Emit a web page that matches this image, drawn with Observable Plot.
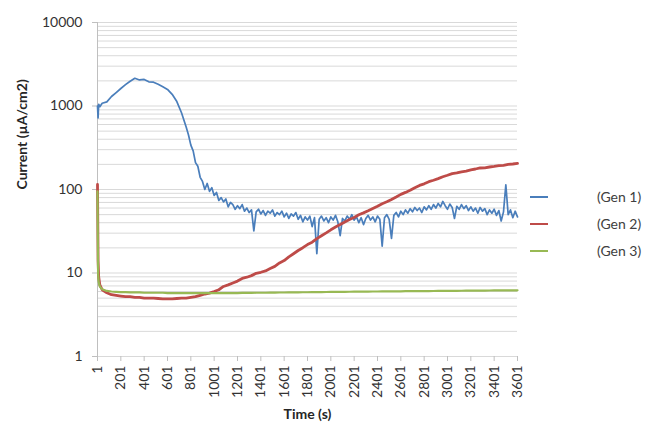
<!DOCTYPE html>
<html>
<head>
<meta charset="utf-8">
<script src="https://cdn.jsdelivr.net/npm/d3@7"></script>
<script src="https://cdn.jsdelivr.net/npm/@observablehq/plot@0.6"></script>
<style>
  html, body { margin: 0; padding: 0; background: #fff; }
  #wrap { position: relative; width: 665px; height: 426px; font-family: Lato, "Liberation Sans", sans-serif; }
  .leg { position: absolute; left: 0; top: 0; width: 665px; height: 426px; pointer-events: none; }
  .leg .sw { position: absolute; left: 530px; width: 18px; height: 2px; }
  .leg .lb { position: absolute; left: 597px; font-size: 14px; color: #404040; line-height: 16px; }
</style>
</head>
<body>
<div id="wrap"></div>
<script>
// shared sample times for Gen 2 / Gen 3
const time = [1,6,11,21,41,81,121,161,201,241,281,321,361,401,441,481,521,561,601,641,681,721,761,801,841,881,921,961,1001,1041,1081,1121,1161,1201,1241,1281,1321,1361,1401,1441,1481,1521,1561,1601,1641,1681,1721,1761,1801,1841,1881,1921,1961,2001,2041,2081,2121,2161,2201,2241,2281,2321,2361,2401,2441,2481,2521,2561,2601,2641,2681,2721,2761,2801,2841,2881,2921,2961,3001,3041,3081,3121,3161,3201,3241,3281,3321,3361,3401,3441,3481,3521,3561,3601];

// denser sample times for the noisy Gen 1 trace
const timeGen1 = [1,6,11,21,41,81,121,161,201,241,281,321,361,401,441,481,521,561,601,641,681,721,761,781,801,821,841,861,881,901,921,941,961,981,
  1001,1021,1041,1061,1081,1101,1121,1141,1161,1181,
  1201,1221,1241,1261,1281,1301,1321,1341,1361,1381,
  1401,1421,1441,1461,1481,1501,1521,1541,1561,1581,
  1601,1621,1641,1661,1681,1701,1721,1741,1761,1781,
  1801,1821,1841,1861,1881,1901,1921,1941,1961,1981,
  2001,2021,2041,2061,2081,2101,2121,2141,2161,2181,
  2201,2221,2241,2261,2281,2301,2321,2341,2361,2381,
  2401,2421,2441,2461,2481,2501,2521,2541,2561,2581,
  2601,2621,2641,2661,2681,2701,2721,2741,2761,2781,
  2801,2821,2841,2861,2881,2901,2921,2941,2961,2981,
  3001,3021,3041,3061,3081,3101,3121,3141,3161,3181,
  3201,3221,3241,3261,3281,3301,3321,3341,3361,3381,
  3401,3421,3441,3461,3481,3501,3521,3541,3561,3581,
  3601];

const gen1 = [1000,720,1050,980,1080,1120,1300,1450,1620,1800,1980,2150,2050,2080,
  1950,1930,1820,1700,1580,1380,1130,830,560,
  450,340,290,210,190,140,125,100,118,95,105,
  85,92,74,80,71,77,62,70,66,58,
  64,59,66,55,60,53,57,32,54,58,
  51,56,49,55,52,57,48,53,50,55,
  47,52,45,51,48,53,44,49,41,47,
  43,48,36,46,17,44,48,42,46,40,
  47,43,49,41,28,45,42,48,44,50,
  43,47,40,46,38,45,49,43,47,41,
  48,44,21,46,50,44,26,49,53,47,
  55,50,57,52,59,54,61,56,60,53,
  62,57,64,58,66,60,68,62,72,64,
  58,67,61,45,63,58,66,59,64,56,
  62,55,60,52,61,55,59,50,57,52,
  58,49,56,42,54,114,50,57,46,55,
  47];

const gen2 = [115,14,9,7.2,6.3,5.8,5.5,5.4,5.3,5.2,
  5.2,5.1,5.1,5.0,5.0,5.0,4.95,4.9,4.9,4.9,
  4.95,5.0,5.0,5.1,5.2,5.4,5.6,5.75,6.0,6.3,
  6.9,7.2,7.6,8.0,8.6,8.9,9.3,9.9,10.2,10.6,
  11.3,12.0,13.2,14.1,15.6,17.0,18.6,20.1,21.9,23.4,
  25.8,27.9,30.2,32.9,35.5,38.0,40.9,43.7,46.2,49.8,
  52.5,55.6,59.3,63.1,67.6,71.2,75.9,81.3,87.5,92.3,
  97.7,105,112,117,124,129,135,142,148,155,
  158,163,166,172,176,181,182,186,189,193,
  195,200,202,205];

const gen3 = [95,10,7.8,6.9,6.4,6.1,6.0,5.95,5.9,5.9,
  5.85,5.85,5.85,5.8,5.8,5.8,5.8,5.8,5.75,5.75,
  5.75,5.75,5.75,5.75,5.75,5.75,5.75,5.75,5.75,5.75,
  5.75,5.75,5.75,5.75,5.78,5.78,5.78,5.8,5.8,5.8,
  5.82,5.82,5.84,5.84,5.85,5.86,5.87,5.88,5.88,5.9,
  5.9,5.91,5.92,5.93,5.94,5.95,5.95,5.96,5.97,5.98,
  5.98,5.99,6.0,6.0,6.01,6.02,6.03,6.03,6.04,6.05,
  6.05,6.06,6.07,6.08,6.08,6.09,6.1,6.1,6.11,6.12,
  6.12,6.13,6.14,6.14,6.15,6.16,6.16,6.17,6.18,6.18,
  6.19,6.19,6.2,6.2];

const seriesNames = ["(Gen 1)", "(Gen 2)", "(Gen 3)"];
const seriesColors = ["#4a7ebb", "#be4b48", "#98b954"];

const xTicks = [1,201,401,601,801,1001,1201,1401,1601,1801,2001,2201,2401,2601,2801,3001,3201,3401,3601];
const yTicks = [1,10,100,1000,10000];
const yGrid = [1,2,3,4,5,6,7,8,9,10,20,30,40,50,60,70,80,90,100,200,300,400,500,600,700,800,900,1000,2000,3000,4000,5000,6000,7000,8000,9000,10000];

const xLabel = "Time (s)";
const yLabel = "Current (µA/cm2)";

const pts = (ts, vals) => ts.map((t, i) => ({t, v: vals[i]})).filter(d => d.v != null);

const chart = Plot.plot({
  width: 665,
  height: 426,
  marginLeft: 97,
  marginRight: 148,
  marginTop: 22,
  marginBottom: 70,
  style: {fontFamily: "Lato, 'Liberation Sans', sans-serif", background: "#fff"},
  x: {domain: [1, 3601]},
  y: {type: "log", domain: [1, 10000]},
  marks: [
    Plot.ruleY(yGrid, {stroke: "#d9d9d9", strokeWidth: 1}),
    Plot.ruleX([1], {stroke: "#bfbfbf"}),
    Plot.axisX({ticks: xTicks, tickSize: 5, tickRotate: -90, tickPadding: 4, fontSize: 14, stroke: "#bfbfbf", fill: "#333", label: null, tickFormat: d => String(d)}),
    Plot.axisY({ticks: yTicks, tickSize: 5, tickPadding: 10, fontSize: 14, stroke: "#bfbfbf", fill: "#333", label: null, tickFormat: d => String(d)}),
    Plot.line(pts(timeGen1, gen1), {x: "t", y: "v", stroke: seriesColors[0], strokeWidth: 1.7}),
    Plot.line(pts(time, gen2), {x: "t", y: "v", stroke: seriesColors[1], strokeWidth: 2.8}),
    Plot.line(pts(time, gen3), {x: "t", y: "v", stroke: seriesColors[2], strokeWidth: 2.2}),
    Plot.text([xLabel], {frameAnchor: "bottom", dy: 62, fontSize: 14, fontWeight: "bold", fill: "#262626"}),
    Plot.text([yLabel], {frameAnchor: "left", dx: -75, rotate: -90, fontSize: 14, fontWeight: "bold", fill: "#262626"})
  ]
});

const wrap = document.getElementById("wrap");
wrap.appendChild(chart);

const leg = document.createElement("div");
leg.className = "leg";
const legY = [197, 224, 251];
seriesNames.forEach((name, i) => {
  const sw = document.createElement("div");
  sw.className = "sw";
  sw.style.top = (legY[i] - 1) + "px";
  sw.style.background = seriesColors[i];
  const lb = document.createElement("div");
  lb.className = "lb";
  lb.style.top = (legY[i] - 8) + "px";
  lb.textContent = name;
  leg.appendChild(sw);
  leg.appendChild(lb);
});
wrap.appendChild(leg);
</script>
</body>
</html>
